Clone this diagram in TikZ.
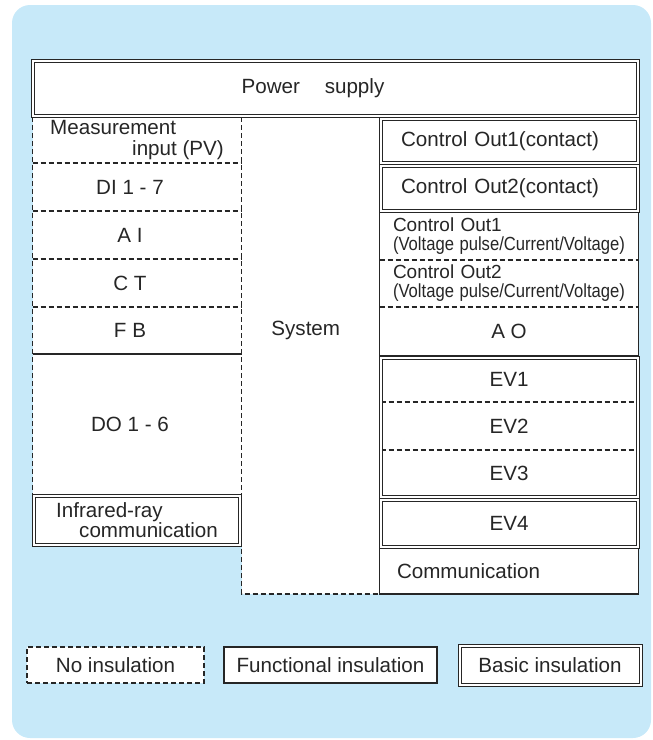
\documentclass[tikz,border=0pt]{standalone}
\usepackage{fontspec}
\setmainfont{Liberation Sans}
\usepackage{graphicx}
\usetikzlibrary{
positioning
}
\definecolor{panelblue}{RGB}{199,233,249}
\definecolor{inkgray}{RGB}{38,38,38}
\tikzset{>=latex}

\begin{document}
\begin{tikzpicture}[x=0.5pt, y=-0.5pt, node distance=0pt,
		every node/.style={inner sep=0pt, outer sep=0pt, text=inkgray, font=\fontsize{10.3pt}{12pt}\selectfont},
		noins/.style={draw=inkgray, line width=0.7pt, dash pattern=on 2.5pt off 1.5pt},
		funcins/.style={draw=inkgray, line width=0.6pt},
		basicins/.style={draw=inkgray, line width=0.5pt, double=white, double distance=1pt},
		colcell/.style={fill=white, minimum width=104.5pt},
		rightcell/.style={fill=white, minimum width=129.5pt},
		basiccell/.style={fill=white, minimum width=128.5pt},
		shiftl/.style={execute at begin node={\hspace*{-7pt}}}]
		\fill[panelblue, rounded corners=9pt] (12,5) rectangle (651,738);
		\useasboundingbox (0,0) rectangle (653,740);

		\node[fill=white, minimum width=302.5pt, minimum height=27.5pt] (power) at (335,88) {\hspace*{-22pt}Power\hspace{1.2em}supply};

		% left column
		\node[colcell, minimum height=23pt, below right=0.75pt and 0pt of power.south west, align=left, font=\fontsize{10.3pt}{10.5pt}\selectfont] (meas) {Measurement\\\hspace*{41pt}input (PV)};
		\node[colcell, shiftl, minimum height=24pt, below=of meas] (di) {DI 1 - 7};
		\node[colcell, shiftl, minimum height=24pt, below=of di] (ai) {A I};
		\node[colcell, shiftl, minimum height=24pt, below=of ai] (ct) {C T};
		\node[colcell, shiftl, minimum height=23.5pt, below=of ct] (fb) {F B};
		\node[colcell, shiftl, minimum height=70pt, below=of fb] (do) {DO 1 - 6};
		\node[fill=white, minimum width=103pt, minimum height=24.5pt, below=0.75pt of do, align=left, font=\fontsize{10.3pt}{10pt}\selectfont] (ir) {Infrared-ray\\\hspace*{11.5pt}communication};

		\node[fill=white, minimum width=69.25pt, minimum height=238.5pt, below right=0pt and 0pt of meas.north east] (system) {};
		\node (systext) at ([xshift=-2.5pt,yshift=12.75pt]system.center) {System};

		% right column
		\node[basiccell, minimum height=22.25pt, below left=1.5pt and 0pt of power.south east, align=left, text width=108pt] (co1c) {Control Out1(contact)};
		\node[basiccell, minimum height=22.5pt, below=1.5pt of co1c, align=left, text width=108pt] (co2c) {Control Out2(contact)};
		\node[rightcell, minimum height=23.75pt, below=0.75pt of co2c, align=left, text width=116pt, font=\fontsize{9.5pt}{9.5pt}\selectfont] (co1v) {Control Out1\\\scalebox{0.875}[1]{(Voltage pulse/Current/Voltage)}};
		\node[rightcell, minimum height=23.5pt, below=of co1v, align=left, text width=116pt, font=\fontsize{9.5pt}{9.5pt}\selectfont] (co2v) {Control Out2\\\scalebox{0.875}[1]{(Voltage pulse/Current/Voltage)}};
		\node[rightcell, minimum height=24.5pt, below=of co2v] (ao) {A O};
		\node[basiccell, minimum height=22.25pt, below=0.75pt of ao] (ev1) {EV1};
		\node[basiccell, minimum height=24pt, below=of ev1] (ev2) {EV2};
		\node[basiccell, minimum height=23.5pt, below=of ev2] (ev3) {EV3};
		\node[basiccell, minimum height=23.25pt, below=1.5pt of ev3] (ev4) {EV4};
		\node[rightcell, minimum height=23pt, below=0.75pt of ev4, align=left, text width=112pt] (comm) {Communication};

		% borders of the left column and system
		\draw[noins] (meas.north west) -- (do.south west);
		\draw[noins] (system.north west) -- (system.south west) -- (system.south east);
		\foreach \n in {meas,di,ai,ct}
			\draw[noins] (\n.south west) -- (\n.south east);
		\draw[funcins] (fb.south west) -- (fb.south east);

		% borders of the right column
		\draw[funcins] (co1v.north west) rectangle (ao.south east);
		\draw[noins] (co1v.south west) -- (co1v.south east);
		\draw[noins] (co2v.south west) -- (co2v.south east);
		\draw[funcins] (comm.north west) rectangle (comm.south east);
		\draw[noins] (ev1.south west) -- (ev1.south east);
		\draw[noins] (ev2.south west) -- (ev2.south east);
		\draw[basicins] (ev1.north west) rectangle (ev3.south east);

		% double framed boxes
		\foreach \n in {power,co1c,co2c,ev4,ir}
			\draw[basicins] (\n.north west) rectangle (\n.south east);

		% legend
		\node[noins, fill=white, minimum width=88.5pt, minimum height=18pt] (noleg) at (115.5,665) {No insulation};
		\node[funcins, fill=white, minimum width=106.5pt, minimum height=18pt, right=10pt of noleg] (funcleg) {Functional insulation};
		\node[basicins, fill=white, minimum width=90.5pt, minimum height=19.5pt, right=11.25pt of funcleg] (basicleg) {Basic insulation};
	\end{tikzpicture}
\end{document}
